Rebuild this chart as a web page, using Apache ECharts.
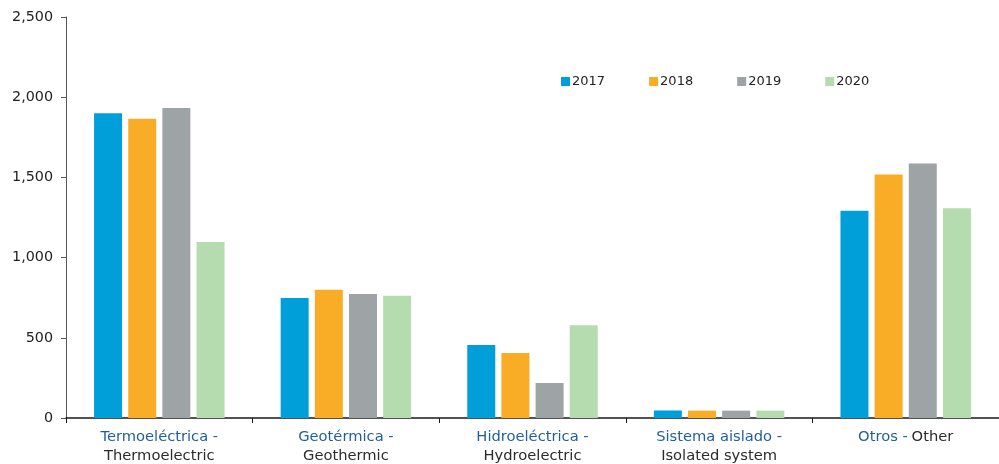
<!DOCTYPE html>
<html>
<head>
<meta charset="utf-8">
<script src="https://cdn.jsdelivr.net/npm/echarts@6/dist/echarts.min.js"></script>
<style>
  html, body { margin: 0; padding: 0; background: #fff; }
  #chart { width: 999px; height: 464px; }
</style>
</head>
<body>
<div id="chart"></div>
<script>
// categories: Spanish name + English name
const categoriesEs = ['Termoeléctrica -', 'Geotérmica -', 'Hidroeléctrica -', 'Sistema aislado -', 'Otros -']
const categoriesEn = ['Thermoelectric', 'Geothermic', 'Hydroelectric', 'Isolated system', 'Other']
const years = ['2017', '2018', '2019', '2020']

const values2017 = [1900, 748, 455, 47, 1292]
const values2018 = [1865, 800, 405, 46, 1518]
const values2019 = [1932, 773, 218, 46, 1587]
const values2020 = [1097, 762, 579, 46, 1307]

const colors = ['#009FDA', '#F9AC25', '#9EA3A6', '#B5DCAF']

const chart = echarts.init(document.getElementById('chart'))
const font = 'DejaVu Sans, Verdana, sans-serif'

function makeSeries(name, data, color) {
  return {
    name: name,
    type: 'bar',
    data: data,
    barWidth: 28,
    barGap: '22%',
    itemStyle: { color: color },
    animation: false
  }
}

chart.setOption({
  textStyle: { fontFamily: font },
  legend: {
    data: years,
    left: 556,
    top: 70,
    icon: 'rect',
    itemWidth: 9,
    itemHeight: 9,
    itemGap: 44,
    selectedMode: false,
    textStyle: { fontFamily: font, fontSize: 13, color: '#222', padding: [0, 0, 0, -3] }
  },
  grid: {
    left: 66,
    top: 17,
    width: 937,
    bottom: 46
  },
  xAxis: {
    type: 'category',
    data: categoriesEs.map((c, i) => c + '|' + categoriesEn[i]),
    axisLine: { lineStyle: { color: '#1a1a1a', width: 1.5 } },
    axisTick: { show: true, length: 5, lineStyle: { color: '#1a1a1a' } },
    axisLabel: {
      margin: 10,
      interval: 0,
      formatter: function(v) {
        const p = v.split('|')
        if (p[1] === 'Other') {
          return '{es|' + p[0] + '} {en|' + p[1] + '}'
        }
        return '{es|' + p[0] + '}\n{en|' + p[1] + '}'
      },
      rich: {
        es: { color: '#1F5F9C', fontSize: 14.7, fontFamily: font, lineHeight: 19 },
        en: { color: '#2b2b2b', fontSize: 14.7, fontFamily: font, lineHeight: 19 }
      }
    }
  },
  yAxis: {
    type: 'value',
    min: 0,
    max: 2500,
    interval: 500,
    splitLine: { show: false },
    axisLine: { show: true, lineStyle: { color: '#555', width: 1 } },
    axisTick: { show: true, length: 5, lineStyle: { color: '#555' } },
    axisLabel: {
      margin: 13,
      fontSize: 14.3,
      fontFamily: font,
      color: '#222',
      formatter: v => v.toLocaleString('en-US')
    }
  },
  series: [
    makeSeries('2017', values2017, colors[0]),
    makeSeries('2018', values2018, colors[1]),
    makeSeries('2019', values2019, colors[2]),
    makeSeries('2020', values2020, colors[3])
  ]
})
</script>
</body>
</html>
